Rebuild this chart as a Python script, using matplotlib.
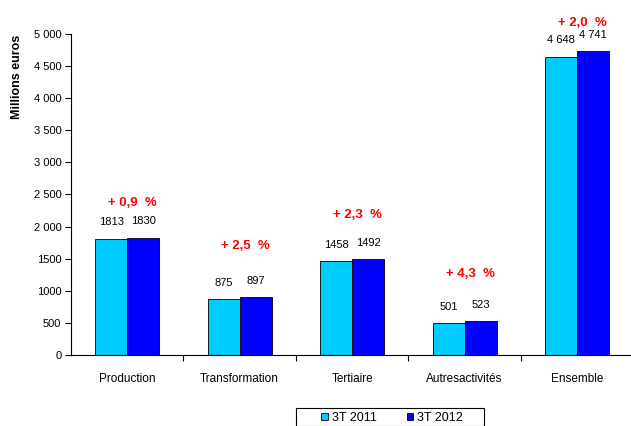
import matplotlib
matplotlib.use('Agg')
import matplotlib.pyplot as plt
from matplotlib.patches import Rectangle
import numpy as np

plt.rcParams['font.family'] = ['Liberation Sans', 'DejaVu Sans']

# data
categories = ['Production', 'Transformation', 'Tertiaire', 'Autresactivités', 'Ensemble']
values_2011 = [1813, 875, 1458, 501, 4648]
values_2012 = [1830, 897, 1492, 523, 4741]
labels_2011 = ['1813', '875', '1458', '501', '4 648']
labels_2012 = ['1830', '897', '1492', '523', '4 741']
growth = ['+ 0,9  %', '+ 2,5  %', '+ 2,3  %', '+ 4,3  %', '+ 2,0  %']
growth_y = [2368, 1700, 2181, 1262, 5170]
series_names = ['3T 2011', '3T 2012']
yticks = [0, 500, 1000, 1500, 2000, 2500, 3000, 3500, 4000, 4500, 5000]
ytick_labels = ['0', '500', '1000', '1500', '2 000', '2 500', '3 000',
                '3 500', '4 000', '4 500', '5 000']

col_2011 = '#00CCFF'
col_2012 = '#0000FF'

fig = plt.figure(figsize=(6.31, 4.26), dpi=100)
ax = fig.add_axes([71/631, 71/426, 560/631, 321/426])

x = np.arange(len(categories))
w = 0.285
b1 = ax.bar(x - w/2, values_2011, w, color=col_2011, edgecolor='black', linewidth=0.6, label=series_names[0])
b2 = ax.bar(x + w/2, values_2012, w, color=col_2012, edgecolor='black', linewidth=0.6, label=series_names[1])

for i in range(len(categories)):
    ax.annotate(labels_2011[i], (x[i] - w/2, values_2011[i]), xytext=(0, 8),
                textcoords='offset points', ha='center', va='bottom', fontsize=8)
    ax.annotate(labels_2012[i], (x[i] + w/2, values_2012[i]), xytext=(0, 8),
                textcoords='offset points', ha='center', va='bottom', fontsize=8)
    ax.text(x[i] + 0.05, growth_y[i], growth[i], ha='center', va='center', color='red',
            fontsize=9.5, fontweight='bold')

ax.set_xlim(-0.5, 4.48)
ax.set_ylim(0, 5000)
ax.set_yticks(yticks)
ax.set_yticklabels(ytick_labels, fontsize=8)
ax.set_xticks(x)
ax.set_xticklabels(categories, fontsize=8.5)
ax.tick_params(axis='x', length=0, pad=13)
ax.set_xticks(np.arange(0.5, 3.6, 1.0), minor=True)
ax.tick_params(axis='x', which='minor', length=4, width=0.8)
ax.tick_params(axis='y', length=4, width=0.8, pad=3)
ax.spines['top'].set_visible(False)
ax.spines['right'].set_visible(False)
for s in ['left', 'bottom']:
    ax.spines[s].set_linewidth(0.8)

fig.text(17/631, 1 - 77/426, 'Millions euros', rotation=90, ha='center', va='center',
         fontsize=9, fontweight='bold')

# legend box (cut at bottom edge like the original)
fig.patches.append(Rectangle((296/631, 0), 188/631, 18/426, transform=fig.transFigure,
                             facecolor='white', edgecolor='black', linewidth=0.8))
leg = fig.legend(handles=[b1, b2], loc='upper left', bbox_to_anchor=(311/631, 1 - 402/426),
                 ncol=2, fontsize=9, frameon=False,
                 handlelength=0.55, handleheight=0.55, columnspacing=2.4, borderpad=0.3,
                 handletextpad=0.3)

fig.savefig('out.png', dpi=100)
